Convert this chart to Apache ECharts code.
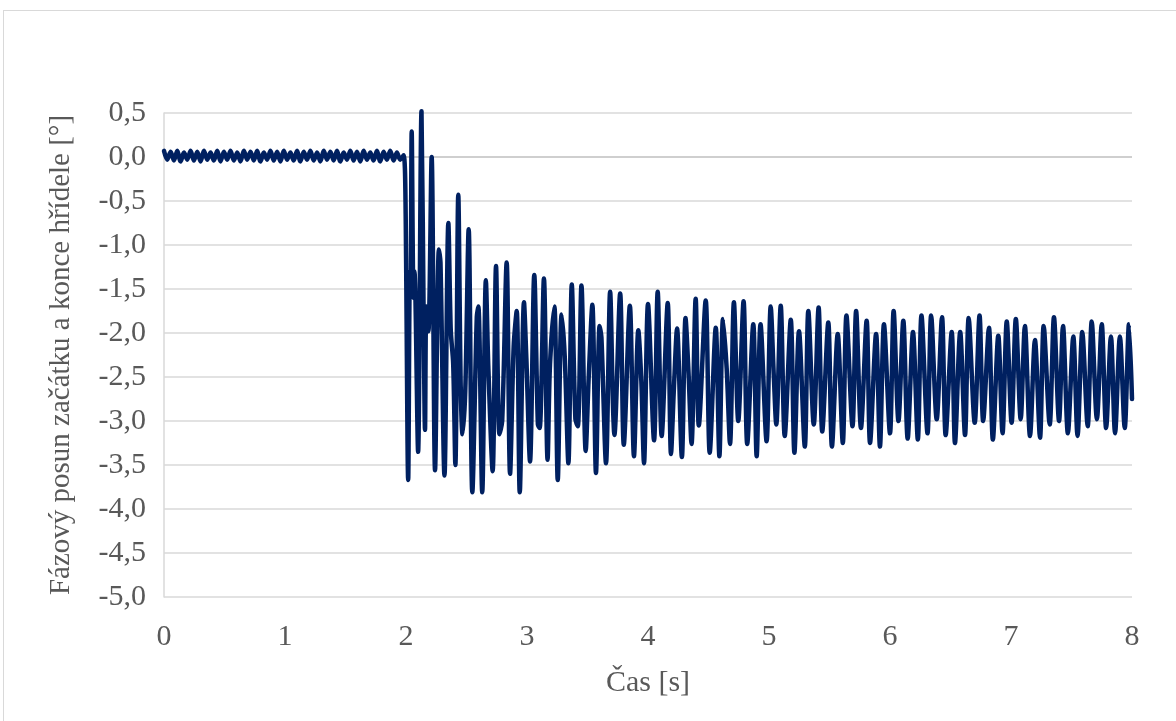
<!DOCTYPE html>
<html>
<head>
<meta charset="utf-8">
<script src="https://cdn.jsdelivr.net/npm/echarts@6/dist/echarts.min.js"></script>
<style>
html,body{margin:0;padding:0;background:#fff;overflow:hidden;}
#frame{position:absolute;left:3px;top:10px;width:1250px;height:800px;border:1px solid #d9d9d9;box-sizing:border-box;}
#chart{position:absolute;left:0;top:0;width:1176px;height:721px;}
</style>
</head>
<body>
<div id="frame"></div>
<div id="chart"></div>
<script>
// Axis ticks
const xTicks = [0, 1, 2, 3, 4, 5, 6, 7, 8];
const yTicks = [-5, -4.5, -4, -3.5, -3, -2.5, -2, -1.5, -1, -0.5, 0, 0.5];

// Phase shift [time s, degrees], in segments
const seg0to2 = [
  [0.000,0.07],[0.027,-0.03],[0.055,0.06],[0.082,-0.04],[0.110,0.07],[0.137,-0.05],[0.165,0.05],[0.192,-0.03],
  [0.220,0.07],[0.247,-0.04],[0.275,0.06],[0.302,-0.05],[0.330,0.07],[0.357,-0.03],[0.385,0.05],[0.412,-0.04],
  [0.440,0.07],[0.467,-0.05],[0.495,0.06],[0.522,-0.03],[0.550,0.07],[0.577,-0.04],[0.605,0.05],[0.632,-0.05],
  [0.660,0.07],[0.687,-0.03],[0.715,0.06],[0.742,-0.04],[0.770,0.07],[0.797,-0.05],[0.825,0.05],[0.852,-0.03],
  [0.880,0.07],[0.907,-0.04],[0.935,0.06],[0.962,-0.05],[0.990,0.07],[1.017,-0.03],[1.045,0.05],[1.072,-0.04],
  [1.100,0.07],[1.127,-0.05],[1.155,0.06],[1.182,-0.03],[1.210,0.07],[1.237,-0.04],[1.265,0.05],[1.292,-0.05],
  [1.320,0.07],[1.347,-0.03],[1.375,0.06],[1.402,-0.04],[1.430,0.07],[1.457,-0.05],[1.485,0.05],[1.512,-0.03],
  [1.540,0.07],[1.567,-0.04],[1.595,0.06],[1.622,-0.05],[1.650,0.07],[1.677,-0.03],[1.705,0.05],[1.732,-0.04],
  [1.760,0.07],[1.787,-0.05],[1.815,0.06],[1.842,-0.03],[1.870,0.07],[1.897,-0.04],[1.925,0.05],[1.952,-0.03],
  [1.980,0.02]
];
const seg2to3 = [
  [1.995,-0.40],[2.018,-3.67],[2.032,-1.30],[2.038,-1.55],[2.047,0.29],[2.062,-1.60],[2.070,-1.30],[2.078,-1.60],
  [2.100,-3.35],[2.128,0.52],[2.145,-1.70],[2.157,-3.10],[2.168,-1.70],[2.185,-1.98],[2.212,0.00],[2.240,-3.56],
  [2.272,-1.05],[2.285,-1.20],[2.318,-3.62],[2.350,-0.75],[2.370,-1.97],[2.390,-2.35],[2.408,-3.50],[2.432,-0.43],
  [2.452,-2.60],[2.467,-3.15],[2.490,-2.65],[2.518,-0.82],[2.548,-3.81],[2.585,-1.82],[2.598,-1.70],[2.630,-3.81],
  [2.660,-1.40],[2.680,-2.37],[2.716,-3.57],[2.744,-1.24],[2.772,-3.15],[2.795,-3.00],[2.832,-1.20],[2.860,-3.60],
  [2.890,-2.15],[2.915,-1.75],[2.940,-3.81],[2.975,-1.65]
];
const seg3to4 = [
  [2.995,-2.30],[3.025,-3.46],[3.060,-1.34],[3.090,-3.04],[3.105,-3.08],[3.140,-1.38],[3.170,-3.44],[3.190,-2.36],
  [3.226,-1.70],[3.254,-3.67],[3.286,-1.79],[3.312,-2.27],[3.342,-3.48],[3.370,-1.45],[3.400,-2.98],[3.420,-3.06],
  [3.450,-1.46],[3.485,-3.34],[3.510,-2.50],[3.540,-1.68],[3.570,-3.59],[3.600,-1.92],[3.615,-2.05],[3.653,-3.48],
  [3.687,-1.53],[3.710,-2.80],[3.722,-3.16],[3.770,-1.55],[3.800,-3.27],[3.850,-1.69],[3.884,-3.40],[3.920,-1.97],
  [3.945,-2.55],[3.967,-3.48]
];
const seg4to5 = [
  [4.000,-1.67],[4.050,-3.22],[4.080,-1.53],[4.113,-3.17],[4.163,-1.66],[4.190,-3.375],[4.215,-2.60],[4.240,-1.95],
  [4.280,-3.41],[4.310,-1.83],[4.335,-2.45],[4.360,-3.26],[4.394,-1.61],[4.420,-3.05],[4.477,-1.63],[4.510,-3.36],
  [4.560,-1.94],[4.590,-3.40],[4.620,-1.84],[4.650,-2.40],[4.678,-3.26],[4.710,-1.65],[4.746,-3.00],[4.790,-1.64],
  [4.820,-3.26],[4.870,-1.90],[4.898,-3.40],[4.930,-1.90],[4.980,-3.23]
];
const seg5to6 = [
  [5.014,-1.70],[5.040,-2.50],[5.060,-3.04],[5.097,-1.69],[5.130,-3.17],[5.180,-1.85],[5.210,-3.36],[5.248,-1.98],
  [5.296,-3.29],[5.325,-1.75],[5.370,-3.04],[5.410,-1.71],[5.440,-3.12],[5.490,-1.88],[5.520,-3.29],[5.568,-2.01],
  [5.610,-3.25],[5.640,-1.80],[5.690,-3.06],[5.720,-1.75],[5.760,-3.08],[5.807,-1.86],[5.835,-3.25],[5.885,-2.01],
  [5.917,-3.29],[5.950,-1.90]
];
const seg6to7 = [
  [6.000,-3.14],[6.030,-1.75],[6.070,-3.00],[6.110,-1.86],[6.146,-3.20],[6.190,-1.99],[6.230,-3.21],[6.260,-1.80],
  [6.310,-3.14],[6.340,-1.80],[6.386,-2.98],[6.430,-1.82],[6.460,-3.16],[6.510,-1.99],[6.537,-3.25],[6.580,-1.99],
  [6.620,-3.16],[6.650,-1.83],[6.700,-3.02],[6.740,-1.80],[6.770,-3.00],[6.818,-1.94],[6.850,-3.21],[6.895,-2.03],
  [6.930,-3.14],[6.965,-1.87]
];
const seg7to8 = [
  [7.005,-3.02],[7.040,-1.84],[7.080,-2.98],[7.115,-1.92],[7.157,-3.17],[7.198,-2.08],[7.240,-3.19],[7.270,-1.92],
  [7.320,-3.04],[7.355,-1.82],[7.397,-3.00],[7.430,-1.92],[7.470,-3.14],[7.515,-2.04],[7.550,-3.17],[7.589,-1.99],
  [7.634,-3.06],[7.667,-1.87],[7.710,-2.98],[7.750,-1.90],[7.786,-3.08],[7.826,-2.04],[7.860,-3.14],[7.900,-2.04],
  [7.940,-3.08],[7.975,-1.90],[8.000,-2.75]
];

const series = [].concat(seg0to2, seg2to3, seg3to4, seg4to5, seg5to6, seg6to7, seg7to8);

const font = '"Liberation Serif", "Times New Roman", serif';
const txt = '#595959';
const gridColors = yTicks.map(v => v === 0 ? '#bfbfbf' : '#d9d9d9');

const chart = echarts.init(document.getElementById('chart'), null, {renderer: 'canvas'});
chart.setOption({
  animation: false,
  backgroundColor: 'transparent',
  grid: {left: 164, right: 44, top: 113, bottom: 124, containLabel: false},
  xAxis: {
    type: 'value', min: xTicks[0], max: xTicks[xTicks.length - 1], interval: 1,
    name: 'Čas [s]', nameLocation: 'middle', nameGap: 71,
    nameTextStyle: {fontFamily: font, fontSize: 30, color: txt},
    axisLine: {show: false}, axisTick: {show: false}, splitLine: {show: false},
    axisLabel: {fontFamily: font, fontSize: 30, color: txt, margin: 25,
      formatter: v => String(v)}
  },
  yAxis: {
    type: 'value', min: yTicks[0], max: yTicks[yTicks.length - 1], interval: 0.5,
    name: 'Fázový posun začátku a konce hřídele [°]', nameLocation: 'middle', nameGap: 88,
    nameTextStyle: {fontFamily: font, fontSize: 29, color: txt},
    axisLine: {show: true, onZero: false, lineStyle: {color: '#d9d9d9', width: 1.5}},
    axisTick: {show: false},
    splitLine: {show: true, lineStyle: {color: gridColors, width: 1.5}},
    axisLabel: {fontFamily: font, fontSize: 30, color: txt, margin: 18,
      formatter: v => v.toFixed(1).replace('.', ',')}
  },
  series: [{
    type: 'line', data: series, showSymbol: false, smooth: 0.3,
    lineStyle: {color: '#002060', width: 4.5, join: 'round', cap: 'round'},
    clip: false
  }]
});
</script>
</body>
</html>
